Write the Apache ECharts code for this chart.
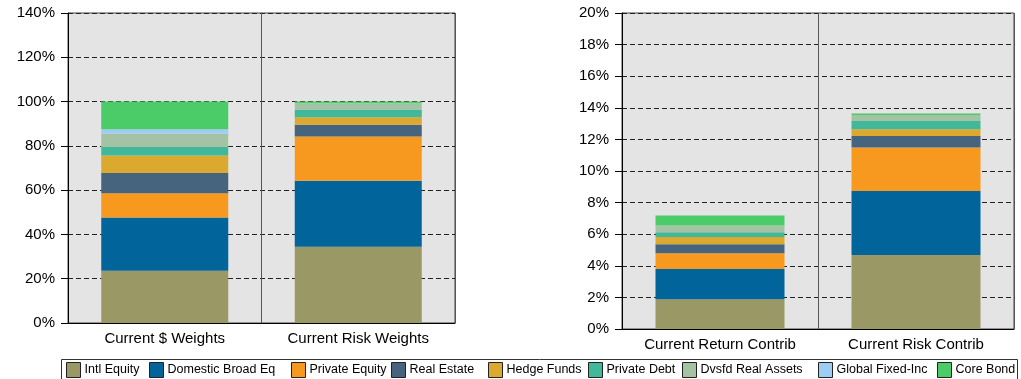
<!DOCTYPE html>
<html>
<head>
<meta charset="utf-8">
<script src="https://cdn.jsdelivr.net/npm/echarts@6/dist/echarts.min.js"></script>
<style>
  html, body { margin: 0; padding: 0; background: #ffffff; }
  #chart { width: 1021px; height: 379px; }
</style>
</head>
<body>
<div id="chart"></div>
<script>
// Asset classes, in stacking order (bottom to top)
const assetClasses = [
  'Intl Equity', 'Domestic Broad Eq', 'Private Equity', 'Real Estate',
  'Hedge Funds', 'Private Debt', 'Dvsfd Real Assets', 'Global Fixed-Inc', 'Core Bond'
];
const assetColors = [
  '#9a9966', '#01649b', '#f7981f', '#46647e',
  '#dba92f', '#41b899', '#a4c3a4', '#9dcdf2', '#4ccc68'
];

// Left panel: weights (%)
const weightCategories = ['Current $ Weights', 'Current Risk Weights'];
const dollarWeights = [23.6, 24.1, 10.9, 9.1, 7.9, 3.9, 6.1, 1.9, 12.5];
const riskWeights   = [34.4, 29.8, 20.0, 5.3, 3.4, 3.5, 2.8, 0.0, 0.8];

// Right panel: contributions (%)
const contribCategories = ['Current Return Contrib', 'Current Risk Contrib'];
const returnContrib = [1.89, 1.90, 1.01, 0.57, 0.46, 0.30, 0.42, 0.0, 0.63];
const riskContrib   = [4.69, 4.05, 2.75, 0.72, 0.44, 0.51, 0.38, 0.0, 0.10];

// Tick settings
const weightAxis  = { min: 0, max: 140, interval: 20 };
const contribAxis = { min: 0, max: 20, interval: 2 };

// Legend icon left positions
const legendLefts = [66, 149, 291, 391, 488, 588, 682, 818, 937];

const chart = echarts.init(document.getElementById('chart'), null, { renderer: 'canvas' });

const baseFont = 'Arial, "Liberation Sans", sans-serif';

function valueAxis(gridIndex, range) {
  return {
    type: 'value', gridIndex,
    min: range.min, max: range.max, interval: range.interval,
    axisLine: { show: true, lineStyle: { color: '#000', width: 1 } },
    axisTick: { show: true, inside: false, length: 7, lineStyle: { color: '#000' } },
    axisLabel: { formatter: '{value}%', color: '#000', fontSize: 15, fontFamily: baseFont, margin: 13 },
    splitLine: { show: true, lineStyle: { color: '#222', type: [5, 3], width: 1 } }
  };
}

function categoryAxis(gridIndex, cats) {
  return {
    type: 'category', gridIndex, data: cats,
    axisLine: { show: true, lineStyle: { color: '#000', width: 1 } },
    axisTick: { show: false, interval: 0 },
    axisLabel: { interval: 0, color: '#000', fontSize: 15, fontFamily: baseFont, margin: 8 },
    splitLine: { show: true, interval: 0, lineStyle: { color: '#555', width: 1 } }
  };
}

const series = [];
assetClasses.forEach((name, i) => {
  series.push({
    name, type: 'bar', stack: 'weights', xAxisIndex: 0, yAxisIndex: 0,
    barWidth: 127,
    itemStyle: { color: assetColors[i] },
    data: [dollarWeights[i], riskWeights[i]]
  });
});
assetClasses.forEach((name, i) => {
  series.push({
    name, type: 'bar', stack: 'contrib', xAxisIndex: 1, yAxisIndex: 1,
    barWidth: 129,
    itemStyle: { color: assetColors[i] },
    data: [returnContrib[i], riskContrib[i]]
  });
});

const legends = assetClasses.map((name, i) => ({
  data: [name],
  left: legendLefts[i],
  top: 362,
  padding: 0,
  itemWidth: 14,
  itemHeight: 15,
  icon: 'rect',
  itemStyle: { borderColor: '#222', borderWidth: 1 },
  textStyle: { color: '#000', fontSize: 12.5, fontFamily: baseFont, padding: [0, 0, 0, -1] },
  selectedMode: false
}));

chart.setOption({
  animation: false,
  backgroundColor: '#ffffff',
  grid: [
    { left: 68, top: 13, width: 387, height: 310, show: true,
      backgroundColor: '#e4e4e4', borderColor: '#444', borderWidth: 1 },
    { left: 622, top: 13, width: 392, height: 316, show: true,
      backgroundColor: '#e4e4e4', borderColor: '#444', borderWidth: 1 }
  ],
  xAxis: [categoryAxis(0, weightCategories), categoryAxis(1, contribCategories)],
  yAxis: [valueAxis(0, weightAxis), valueAxis(1, contribAxis)],
  legend: legends,
  graphic: [{
    type: 'rect',
    shape: { x: 61.5, y: 359.5, width: 956, height: 30 },
    style: { fill: '#ffffff', stroke: '#333', lineWidth: 1 },
    z: -1
  }],
  series
});
</script>
</body>
</html>
